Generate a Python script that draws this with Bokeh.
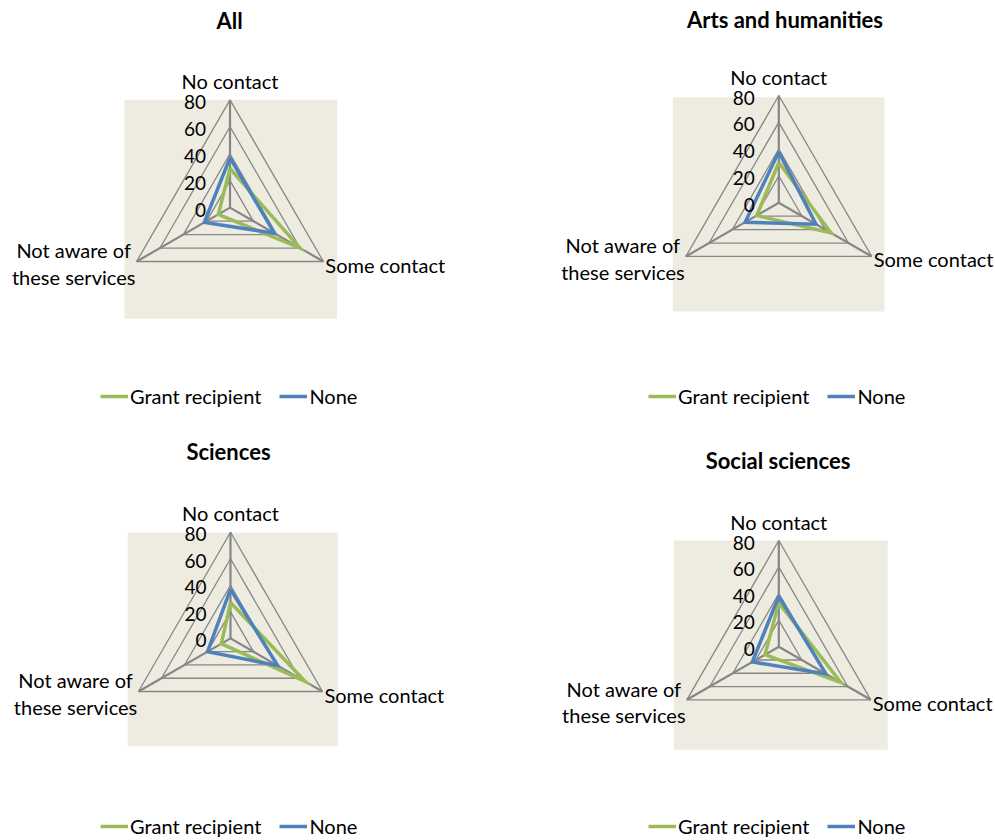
import numpy as np
from bokeh.plotting import figure
from bokeh.models import Range1d, BoxAnnotation, Label, Legend, LegendItem
from bokeh.layouts import gridplot
from bokeh.core.properties import value
from bokeh.embed import file_html
from bokeh.resources import INLINE

# ---------------- data ----------------
categories = ["No contact", "Some contact", "Not aware of\nthese services"]
series_names = ["Grant recipient", "None"]
ticks = [0, 20, 40, 60, 80]
titles = ["All", "Arts and humanities", "Sciences", "Social sciences"]

grant_all = [29, 60, 10]
none_all = [37, 38, 22]
grant_arts = [30, 45, 19]
none_arts = [38, 32, 29]
grant_sci = [27, 65, 8]
none_sci = [37, 41, 20]
grant_soc = [33, 54, 12]
none_soc = [38, 41, 23]

# ---------------- style / layout ----------------
FONT = "Lato"
GREEN = "#9BBB59"
BLUE = "#4F81BD"
GRID = "#868686"
BEIGE = "#EEECE1"
RMAX = ticks[-1]

layouts = [
    dict(frame=(0, 0, 497, 420), center=(229.5, 207.1, 107.8),
         box=(124, 99.3, 336.7, 318.3), title=(229, 20), legend=(100, 398.3)),
    dict(frame=(497, 0, 497, 420), center=(778.3, 202.3, 107.3),
         box=(672.3, 96.7, 884, 311), title=(784.5, 19.3), legend=(648, 398)),
    dict(frame=(0, 420, 497, 418), center=(230, 637.9, 106.2),
         box=(127.3, 532.3, 337.3, 745.7), title=(228, 451), legend=(100, 828)),
    dict(frame=(497, 420, 497, 418), center=(778.3, 646.2, 106.2),
         box=(673.3, 540, 887.3, 749.3), title=(777.5, 460), legend=(648, 828)),
]

n_cat = len(categories)
angles = np.deg2rad(90 - 360.0 / n_cat * np.arange(n_cat))


def polar(vals):
    v = np.asarray(vals, dtype=float)
    xs = v * np.cos(angles)
    ys = v * np.sin(angles)
    return list(xs) + [xs[0]], list(ys) + [ys[0]]


def make_panel(title, grant, none, L):
    fx0, fy0, W, H = L["frame"]
    cx, cy, R = L["center"]
    s = R / RMAX
    p = figure(width=W, height=H, output_backend="svg", toolbar_location=None,
               x_range=Range1d((fx0 - cx) / s, (fx0 + W - cx) / s),
               y_range=Range1d(-(fy0 + H - cy) / s, (cy - fy0) / s),
               x_axis_location=None, y_axis_location=None, min_border=0,
               outline_line_color=None, background_fill_color="white",
               border_fill_color="white")
    p.grid.visible = False

    bl, bt, br, bb = L["box"]
    p.add_layout(BoxAnnotation(left=(bl - cx) / s, right=(br - cx) / s,
                               top=(cy - bt) / s, bottom=(cy - bb) / s,
                               fill_color=BEIGE, fill_alpha=1, line_alpha=0,
                               level="underlay"))

    # rings
    for t in ticks[1:]:
        xs, ys = polar([t] * n_cat)
        p.line(xs, ys, line_color=GRID, line_width=1.3)
    # spokes
    p.segment(x0=[0] * n_cat, y0=[0] * n_cat,
              x1=list(RMAX * np.cos(angles)), y1=list(RMAX * np.sin(angles)),
              line_color=GRID, line_width=2.2)

    # series
    xs, ys = polar(grant)
    r_g = p.line(xs, ys, line_color=GREEN, line_width=3.5, line_join="miter")
    xs, ys = polar(none)
    r_n = p.line(xs, ys, line_color=BLUE, line_width=3.5, line_join="miter")

    # tick labels
    p.text(x=[0] * len(ticks), y=ticks, text=[str(t) for t in ticks],
           text_align="right", text_baseline="middle", x_offset=-24, y_offset=2,
           text_font=value(FONT), text_font_size="19px", text_color="black")

    # category labels
    vx = RMAX * np.cos(angles)
    vy = RMAX * np.sin(angles)
    p.text(x=[vx[0]], y=[vy[0]], text=[categories[0]], text_align="center",
           text_baseline="middle", y_offset=-19,
           text_font=value(FONT), text_font_size="20px", text_color="black")
    p.text(x=[vx[1]], y=[vy[1]], text=[categories[1]], text_align="left",
           text_baseline="middle", x_offset=2, y_offset=3,
           text_font=value(FONT), text_font_size="20px", text_color="black")
    p.text(x=[vx[2]], y=[vy[2]], text=[categories[2]], text_align="center",
           text_baseline="middle", x_offset=-63, y_offset=2, text_line_height=1.1,
           text_font=value(FONT), text_font_size="20px", text_color="black")

    # title
    tx, ty = L["title"]
    p.add_layout(Label(x=(tx - cx) / s, y=(cy - ty) / s, text=title,
                       text_align="center", text_baseline="middle",
                       text_font=FONT, text_font_style="bold",
                       text_font_size="22px", text_color="black"))

    # legend
    lx, ly = L["legend"]
    legend = Legend(items=[LegendItem(label=series_names[0], renderers=[r_g]),
                           LegendItem(label=series_names[1], renderers=[r_n])],
                    orientation="horizontal",
                    location=(lx - fx0, fy0 + H - (ly + 10)),
                    glyph_width=28, glyph_height=20, label_height=20,
                    label_standoff=2, spacing=18, padding=0, margin=0,
                    border_line_alpha=0, background_fill_alpha=0,
                    label_text_font=FONT, label_text_font_size="20px",
                    label_text_color="black")
    p.add_layout(legend)
    return p


panels = [
    make_panel(titles[0], grant_all, none_all, layouts[0]),
    make_panel(titles[1], grant_arts, none_arts, layouts[1]),
    make_panel(titles[2], grant_sci, none_sci, layouts[2]),
    make_panel(titles[3], grant_soc, none_soc, layouts[3]),
]

grid = gridplot([[panels[0], panels[1]], [panels[2], panels[3]]],
                toolbar_location=None)

open("out.html", "w").write(file_html(grid, INLINE))
